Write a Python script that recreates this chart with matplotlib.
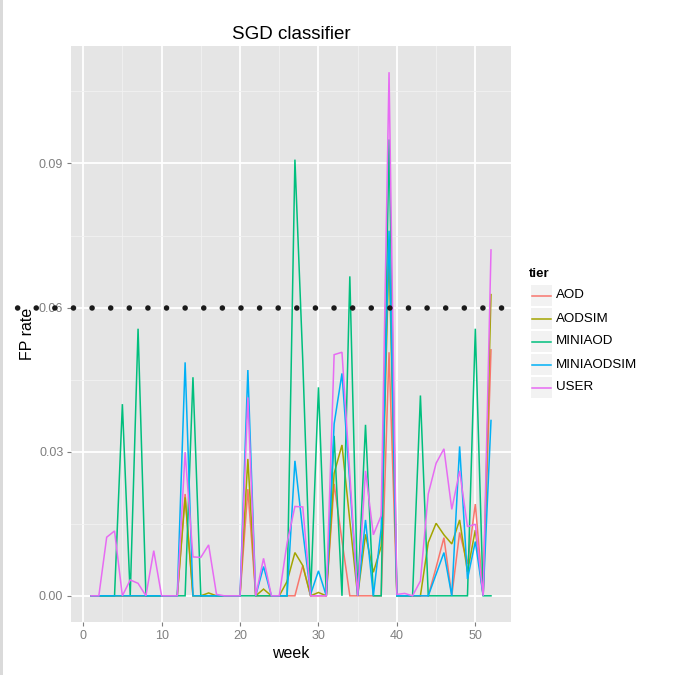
import matplotlib
matplotlib.use("Agg")
import matplotlib.pyplot as plt
from matplotlib.patches import Rectangle
from matplotlib.lines import Line2D
import numpy as np

plt.rcParams['font.family'] = ['Liberation Sans', 'DejaVu Sans']

# weekly false positive rates per data tier
weeks = list(range(1, 53))

aod = [0, 0, 0, 0, 0, 0, 0, 0, 0, 0, 0, 0, 0.0212, 0, 0, 0, 0, 0, 0, 0,
       0.0222, 0, 0, 0, 0, 0, 0, 0.0063, 0, 0, 0, 0.0233, 0.0115, 0, 0, 0,
       0, 0, 0.0507, 0, 0, 0, 0, 0, 0.0059, 0.0121, 0, 0.0132, 0.0066, 0.0191,
       0, 0.0512]
aodsim = [0, 0, 0, 0, 0, 0, 0, 0, 0, 0, 0, 0, 0.0205, 0, 0, 0.0006, 0, 0, 0, 0,
          0.0285, 0, 0.0014, 0, 0, 0.003, 0.009, 0.0063, 0, 0.0007, 0, 0.0255, 0.0314, 0.0156, 0, 0.0128,
          0.0049, 0.0103, 0.072, 0, 0, 0, 0, 0.0111, 0.0151, 0.0127, 0.0108, 0.0158, 0.005, 0.0137,
          0, 0.0627]
miniaod = [0, 0, 0, 0, 0.0399, 0, 0.0556, 0, 0, 0, 0, 0, 0, 0.0455, 0, 0, 0, 0, 0, 0,
           0, 0, 0, 0, 0, 0, 0.0908, 0.049, 0, 0.0434, 0, 0.0333, 0, 0.0665, 0, 0.0356,
           0, 0, 0.095, 0, 0, 0, 0.0417, 0, 0, 0, 0, 0, 0, 0.0556,
           0, 0]
miniaodsim = [0, 0, 0, 0, 0, 0, 0, 0, 0, 0, 0, 0, 0.0486, 0, 0, 0, 0, 0, 0, 0,
              0.047, 0, 0.0061, 0, 0, 0, 0.0281, 0.0135, 0.0003, 0.0052, 0, 0.0358, 0.0463, 0.0233, 0, 0.0158,
              0, 0.014, 0.076, 0, 0, 0, 0, 0, 0.0045, 0.009, 0, 0.0311, 0.0035, 0.0113,
              0, 0.0365]
user = [0, 0, 0.0122, 0.0135, 0, 0.0033, 0.0026, 0, 0.0094, 0, 0, 0, 0.0299, 0.0081, 0.008, 0.0106, 0.0003, 0, 0, 0,
        0.0413, 0, 0.0078, 0, 0, 0.011, 0.0186, 0.0185, 0, 0, 0, 0.0502, 0.0507, 0.0253, 0, 0.026,
        0.0127, 0.0167, 0.109, 0.0003, 0.0005, 0, 0.0031, 0.0212, 0.0276, 0.0306, 0.018, 0.026, 0.0144, 0.0149,
        0, 0.072]

tiers = ['AOD', 'AODSIM', 'MINIAOD', 'MINIAODSIM', 'USER']
series = [aod, aodsim, miniaod, miniaodsim, user]
colors = ['#F8766D', '#A3A500', '#00BF7D', '#00B0F6', '#E76BF3']
threshold = 0.06

W, H = 675, 675
fig = plt.figure(figsize=(W / 100, H / 100), dpi=100)

# panel placed in pixel units like the ggplot layout
pl, pr, pt, pb = 71, 511, 46, 622
ax = fig.add_axes([pl / W, 1 - pb / H, (pr - pl) / W, (pb - pt) / H])
ax.set_facecolor('#E5E5E5')
for s in ax.spines.values():
    s.set_visible(False)

for name, vals, c in zip(tiers, series, colors):
    ax.plot(weeks, vals, color=c, lw=1.1, label=name, solid_joinstyle='miter')

# ggplot style 5% expansion
xmin, xmax = min(weeks), max(weeks)
ymax = max(max(s) for s in series)
dx = 0.05 * (xmax - xmin)
ax.set_xlim(xmin - dx, xmax + dx)
ax.set_ylim(-0.05 * ymax, 1.05 * ymax)

ax.set_xticks([0, 10, 20, 30, 40, 50])
ax.set_xticks([5, 15, 25, 35, 45], minor=True)
ax.set_yticks([0, 0.03, 0.06, 0.09])
ax.set_yticklabels(['0.00', '0.03', '0.06', '0.09'])
ax.set_yticks([0.015, 0.045, 0.075, 0.105], minor=True)
ax.grid(which='major', color='white', lw=1.3)
ax.grid(which='minor', color='#F2F2F2', lw=0.6)
ax.set_axisbelow(True)
ax.tick_params(which='major', length=3, width=0.8, color='#7F7F7F',
               labelcolor='#7F7F7F', labelsize=9, pad=2.5)
ax.tick_params(which='minor', length=0)

ax.set_title('SGD classifier', fontsize=13.5, pad=5)
ax.set_xlabel('week', fontsize=11.5, labelpad=3)
ax.set_ylabel('FP rate', fontsize=11.5, labelpad=3)

# dotted threshold line, runs out into the left margin
hl = Line2D([-0.1666, 1.0], [threshold, threshold], transform=ax.get_yaxis_transform(),
            color='#1A1A1A', lw=4.0, clip_on=False, dash_capstyle='round', zorder=5)
hl.set_dashes((0.01, 3.34))
ax.add_line(hl)

# legend drawn by hand in pixel coordinates
lax = fig.add_axes([0, 0, 1, 1], facecolor='none')
lax.set_xlim(0, W)
lax.set_ylim(H, 0)
lax.axis('off')
lax.text(529, 274, 'tier', fontsize=9.5, fontweight='bold', va='center', ha='left')
for i, (name, c) in enumerate(zip(tiers, colors)):
    y0 = 285 + i * 23
    lax.add_patch(Rectangle((531, y0), 21, 21, facecolor='#F2F2F2', edgecolor='none'))
    lax.plot([532, 551], [y0 + 10.5, y0 + 10.5], color=c, lw=1.1)
    lax.text(556, y0 + 10.5, name, fontsize=9.6, va='center', ha='left')

# thin grey frame on the left edge of the screenshot
lax.add_patch(Rectangle((0, 0), 2.5, H, facecolor='#DADADA', edgecolor='none'))

fig.savefig('out.png', dpi=100)
